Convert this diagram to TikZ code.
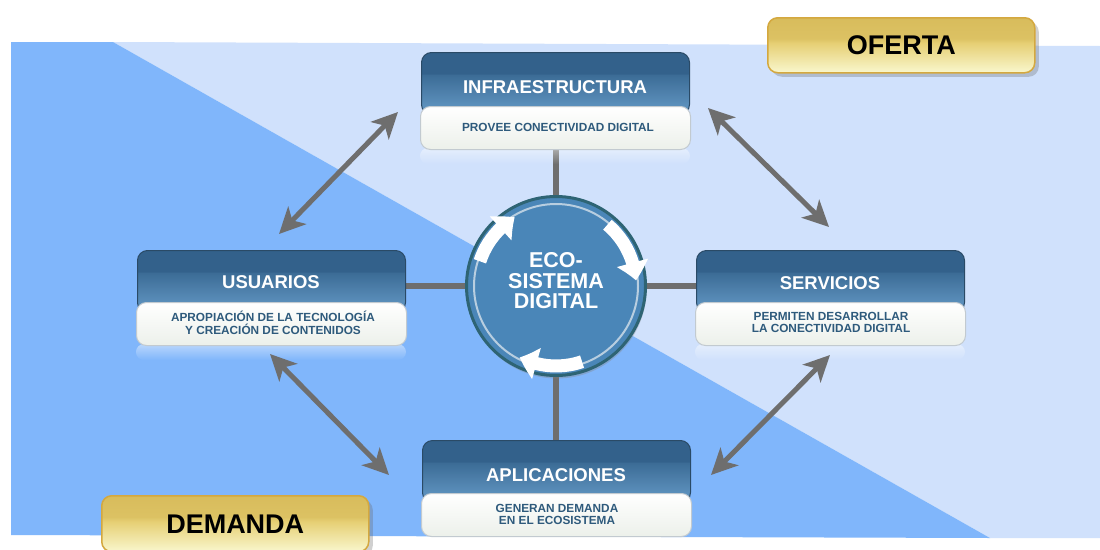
\documentclass[tikz,border=0pt]{standalone}
\usepackage{fontspec}
\setmainfont{Liberation Sans}
\usetikzlibrary{arrows.meta,shadows,fadings,bending}
\definecolor{bgDark}{HTML}{80B6FB}
\definecolor{bgLight}{HTML}{D0E1FC}
\definecolor{hdrA}{HTML}{33618B}
\definecolor{hdrA2}{HTML}{3C6C96}
\definecolor{hdrC}{HTML}{5C90BC}
\definecolor{hdrLine}{HTML}{2A4A66}
\definecolor{subBot}{HTML}{ECF0EA}
\definecolor{subLine}{HTML}{C2CAD0}
\definecolor{subText}{HTML}{2E5A7C}
\definecolor{goldLine}{HTML}{D4A83F}
\definecolor{goldA}{HTML}{D8BC5C}
\definecolor{goldB}{HTML}{E6CF74}
\definecolor{goldC}{HTML}{F9F7CD}
\definecolor{arrowGray}{HTML}{6E6E6E}
\definecolor{ecoFill}{HTML}{4A86B8}
\definecolor{ecoRing}{HTML}{2E6474}
\definecolor{ecoInner}{HTML}{B8CEE0}
\pgfdeclareverticalshading{hdrshade}{100bp}{color(0bp)=(hdrC); color(32bp)=(hdrC); color(57bp)=(hdrA2); color(58bp)=(hdrA); color(75bp)=(hdrA); color(100bp)=(hdrA)}
\pgfdeclareverticalshading{goldshade}{100bp}{color(0bp)=(goldC); color(25bp)=(goldC); color(52bp)=(goldB); color(56bp)=(goldA!70!goldB); color(75bp)=(goldA); color(100bp)=(goldA)}
\tikzfading[name=fadedown, top color=transparent!35, bottom color=transparent!100]
\pgfdeclarelayer{back}
\pgfdeclarelayer{conn}
\pgfsetlayers{back,conn,main}
\begin{document}
\begin{tikzpicture}[x=1pt,y=-1pt,
  hdr/.style={rounded corners=10pt, shading=hdrshade, draw=hdrLine, line width=1pt,
    minimum width=268pt, minimum height=62pt, anchor=north west, inner sep=0pt,
    drop shadow={shadow xshift=0pt, shadow yshift=-1pt, opacity=0.25}},
  subbox/.style={rounded corners=10pt, top color=white, bottom color=subBot, draw=subLine,
    line width=1pt, minimum width=270pt, minimum height=43pt, anchor=north west, inner sep=0pt},
  hdrtxt/.style={text=white, font=\bfseries\fontsize{18.5}{20}\selectfont, inner sep=0pt},
  subtxt/.style={text=subText, font=\bfseries\fontsize{11.8}{12.8}\selectfont, align=center, inner sep=0pt},
  gold/.style={rounded corners=10pt, draw=goldLine, line width=1.5pt, shading=goldshade,
    minimum width=267pt, anchor=north west, inner sep=0pt,
    font=\bfseries\fontsize{27}{30}\selectfont, text=black,
    drop shadow={shadow xshift=4pt, shadow yshift=-4pt, opacity=0.3, fill=black!60}},
  dbl/.style={draw=arrowGray, line width=5pt,
    {Stealth[length=26pt,width=25pt,inset=7pt]}-{Stealth[length=26pt,width=25pt,inset=7pt]}},
  link/.style={draw=arrowGray, line width=6pt},
  cyc/.style={draw=white, line width=13pt, -{Triangle[length=18pt,width=31pt,bend]}},
  refl/.style={fill=white, path fading=fadedown, opacity=0.7},
]
\useasboundingbox (0,0) rectangle (1100,549);

\begin{pgfonlayer}{back}
  \fill[white] (0,0) rectangle (1100,549);
  \fill[bgLight] (113,42) -- (1100,46) -- (1100,538) -- (990,538) -- cycle;
  \fill[bgDark] (11,42) -- (113,42) -- (990,538) -- (11,535) -- cycle;
\end{pgfonlayer}

% golden labels
\node[gold, minimum height=55pt] (oferta) at (767,17) {OFERTA};
\node[gold, minimum height=56pt] (demanda) at (101,495) {DEMANDA};

% boxes
\node[hdr] (infraH) at (421,52) {};
\fill[refl, rounded corners=8pt] (420,148) rectangle (690,164);
\node[subbox] (infraW) at (420,106) {};
\node[hdrtxt] (infraT) at (555,87) {INFRAESTRUCTURA};
\node[subtxt] (infraS) at (558,127.5) {PROVEE CONECTIVIDAD DIGITAL};

\node[hdr] (usuH) at (137,250) {};
\fill[refl, rounded corners=8pt] (136,344) rectangle (406,360);
\node[subbox] (usuW) at (136,302) {};
\node[hdrtxt] (usuT) at (271,282) {USUARIOS};
\node[subtxt] (usuS) at (273,323) {APROPIACIÓN DE LA TECNOLOGÍA\\Y CREACIÓN DE CONTENIDOS};

\node[hdr] (servH) at (696,250) {};
\fill[refl, rounded corners=8pt] (695,344) rectangle (965,360);
\node[subbox] (servW) at (695,302) {};
\node[hdrtxt] (servT) at (830,283) {SERVICIOS};
\node[subtxt] (servS) at (831,322.5) {PERMITEN DESARROLLAR\\LA CONECTIVIDAD DIGITAL};

\node[hdr] (aplH) at (422,440) {};
\node[subbox] (aplW) at (421,493) {};
\node[hdrtxt] (aplT) at (556,475) {APLICACIONES};
\node[subtxt] (aplS) at (557,514.5) {GENERAN DEMANDA\\EN EL ECOSISTEMA};

% central circle
\node[circle, minimum size=179pt, inner sep=0pt, fill=ecoFill, draw=ecoRing, line width=3pt,
  drop shadow={opacity=0.35, shadow xshift=1pt, shadow yshift=-3pt}] (eco) at (556,286) {};
\draw[ecoInner, line width=2pt] (eco.center) circle[radius=82pt];
\node[text=white, font=\bfseries\fontsize{21.5}{20.5}\selectfont, align=center, inner sep=0pt]
  (ecoT) at (556,281) {ECO-\\SISTEMA\\DIGITAL};

\begin{scope}[shift={(eco.center)}, x=1pt, y=1pt]
  \draw[cyc] (162:80) arc[start angle=162, end angle=121, radius=80];
  \draw[cyc] (50:80) arc[start angle=50, end angle=4, radius=80];
  \draw[cyc] (-71:80) arc[start angle=-71, end angle=-117, radius=80];
\end{scope}

% connectors
\begin{pgfonlayer}{conn}
  \draw[link] (eco.north |- infraW.south) -- (eco.center);
  \draw[link] (eco.center) -- (eco.center |- aplH.north);
  \draw[link] (usuH.center |- eco.center) -- (eco.center);
  \draw[link] (eco.center) -- (servH.center |- eco.center);
\end{pgfonlayer}

\coordinate (iu1) at (398,112);
\coordinate (iu2) at (279,234);
\coordinate (is1) at (708,108);
\coordinate (is2) at (829,227);
\coordinate (ua1) at (270,354);
\coordinate (ua2) at (389,475);
\coordinate (sa1) at (830,355);
\coordinate (sa2) at (711,475);
\draw[dbl] (iu1) -- (iu2);
\draw[dbl] (is1) -- (is2);
\draw[dbl] (ua1) -- (ua2);
\draw[dbl] (sa1) -- (sa2);
\end{tikzpicture}
\end{document}
